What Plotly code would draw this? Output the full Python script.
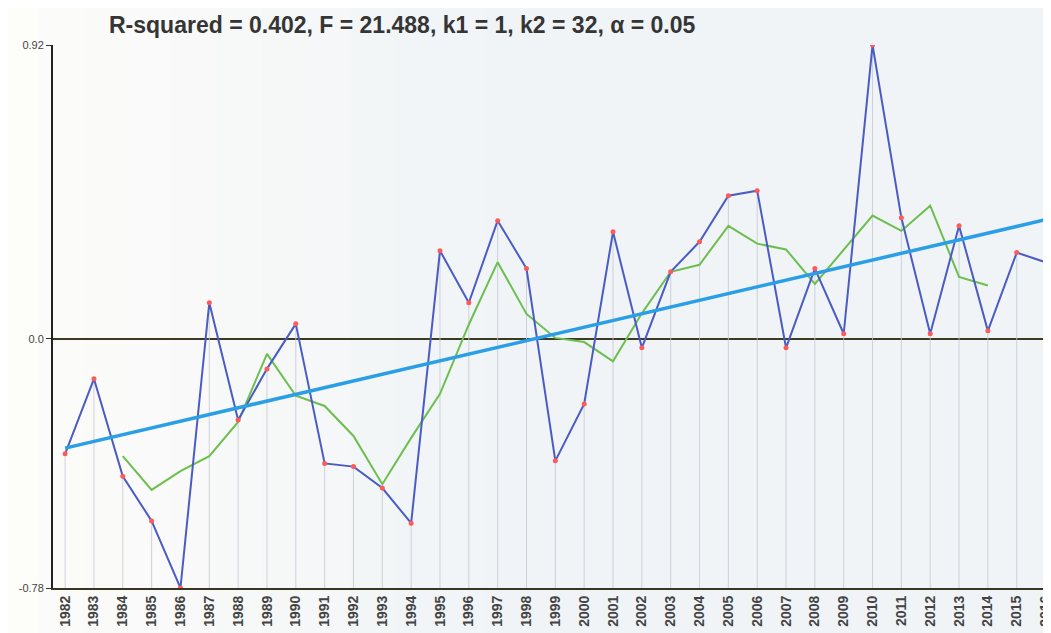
import plotly.graph_objects as go

years = list(range(1982, 2017))
anomaly = [-0.36, -0.125, -0.43, -0.57, -0.78, 0.113, -0.254, -0.094, 0.047, -0.39,
           -0.40, -0.467, -0.577, 0.276, 0.113, 0.37, 0.22, -0.382, -0.204, 0.335,
           -0.028, 0.21, 0.304, 0.448, 0.464, -0.028, 0.22, 0.016, 0.92, 0.379,
           0.016, 0.354, 0.025, 0.27, 0.24]

smooth_years = list(range(1984, 2015))
smooth = [-0.367, -0.473, -0.414, -0.367, -0.26, -0.047, -0.178, -0.21, -0.304, -0.455,
          -0.31, -0.172, 0.045, 0.24, 0.078, 0.003, -0.01, -0.07, 0.08, 0.21,
          0.232, 0.354, 0.298, 0.28, 0.172, 0.28, 0.386, 0.338, 0.417, 0.194, 0.167]

trend_years = [1982, 2016]
trend = [-0.342, 0.373]

y_min, y_max = -0.78, 0.92
y_tickvals = [-0.78, 0.0, 0.92]
y_ticktext = ["-0.78", "0.0", "0.92"]

title_text = "R-squared = 0.402, F = 21.488, k1 = 1, k2 = 32, \u03b1 = 0.05"

fig = go.Figure()

# background gradient (scan-like)
shapes = []
n = 24
for i in range(n):
    t = i / (n - 1)
    t2 = min(1.0, t * 2.0)
    r = int(253 - (253 - 240) * t2)
    g = int(253 - (253 - 244) * t2)
    b = int(250 - (250 - 247) * t2)
    shapes.append(dict(type="rect", xref="paper", yref="paper",
                       x0=-0.06 + i * (1.08 / n), x1=-0.06 + (i + 1) * (1.08 / n) + 0.002,
                       y0=-0.1, y1=1.1, fillcolor=f"rgb({r},{g},{b})",
                       line=dict(width=0), layer="below"))

# drop lines via error bars
fig.add_trace(go.Scatter(
    x=years, y=anomaly, mode="markers",
    marker=dict(size=1, color="rgba(0,0,0,0)"),
    error_y=dict(type="data", symmetric=False,
                 array=[0] * len(anomaly),
                 arrayminus=[v - y_min for v in anomaly],
                 color="rgba(195,200,210,0.8)", thickness=1, width=0),
    hoverinfo="skip", showlegend=False))

fig.add_trace(go.Scatter(x=smooth_years, y=smooth, mode="lines",
                         line=dict(color="#6cbf4e", width=2), showlegend=False))

fig.add_trace(go.Scatter(x=years, y=anomaly, mode="lines+markers",
                         line=dict(color="#4a5cc4", width=2),
                         marker=dict(color="#ff5a5a", size=5), showlegend=False))

fig.add_trace(go.Scatter(x=trend_years, y=trend, mode="lines",
                         line=dict(color="#2a9fe6", width=3.5), showlegend=False))

fig.update_layout(
    width=1051, height=633,
    margin=dict(l=45, r=12, t=37, b=53),
    paper_bgcolor="white", plot_bgcolor="rgba(0,0,0,0)",
    shapes=shapes,
    title=dict(text=title_text, xref="container", yref="container",
               x=101 / 1051, xanchor="left", y=1 - 17 / 633, yanchor="middle",
               font=dict(family="Liberation Sans, Arial", size=23, color="#353535",
                         weight="bold")),
    font=dict(family="Liberation Sans, Arial", color="#444444"),
)

fig.update_xaxes(range=[1981.58, 2016.05], tickvals=years, ticktext=[str(y) for y in years],
                 tickangle=-90, tickfont=dict(size=14, color="#444444", weight="bold"),
                 showgrid=False, zeroline=False, showline=True, linecolor="#3a3520",
                 linewidth=2, ticks="", automargin=False)

fig.update_yaxes(range=[y_min, y_max], tickvals=y_tickvals, ticktext=y_ticktext,
                 tickfont=dict(size=11, color="#444444"), showgrid=False,
                 zeroline=True, zerolinecolor="#3d3a22", zerolinewidth=1.5,
                 showline=True, linecolor="#222222", linewidth=2,
                 ticks="outside", ticklen=5, tickcolor="#333333", automargin=False)

fig.write_html("out.html")
